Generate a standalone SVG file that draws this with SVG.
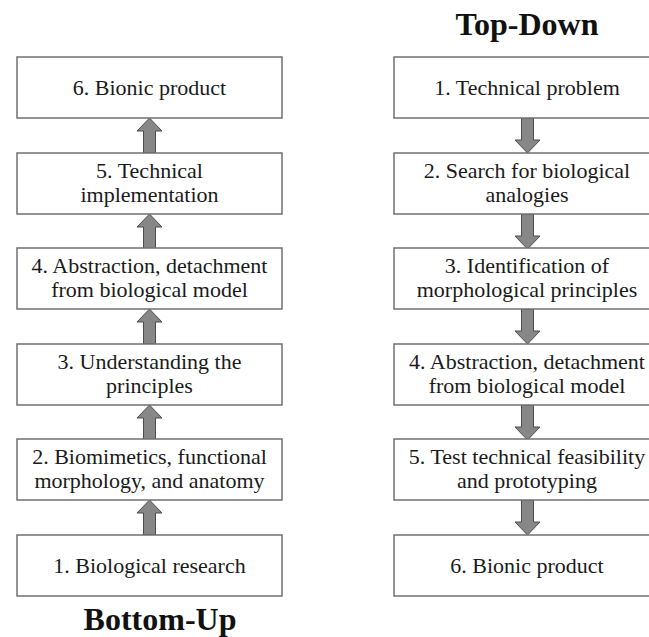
<svg xmlns="http://www.w3.org/2000/svg" width="649" height="637" viewBox="0 0 649 637">
<style>
.box{fill:#fff;stroke:#707070;stroke-width:1.5}
.t{font-family:"Liberation Serif","Times New Roman",serif;font-size:22px;fill:#1a1a1a;text-anchor:middle}
.h{font-family:"Liberation Serif","Times New Roman",serif;font-size:32px;font-weight:bold;fill:#111;text-anchor:middle}
.ar{fill:#878787;stroke:#4d4d4d;stroke-width:1}
</style>
<defs>
<path id="up" class="ar" d="M0,0 L12.5,13 L6,13 L6,35 L-6,35 L-6,13 L-12.5,13 Z"/>
<path id="down" class="ar" d="M0,35 L12.5,22 L6,22 L6,0 L-6,0 L-6,22 L-12.5,22 Z"/>
</defs>
<rect width="649" height="637" fill="#fff"/>
<text class="h" x="527" y="35">Top-Down</text>
<text class="h" x="160" y="630">Bottom-Up</text>

<g id="connectors">
<use href="#up" x="149.5" y="118"/>
<use href="#up" x="149.5" y="214"/>
<use href="#up" x="149.5" y="309"/>
<use href="#up" x="149.5" y="405"/>
<use href="#up" x="149.5" y="500"/>
<use href="#down" x="527.5" y="118"/>
<use href="#down" x="527.5" y="214"/>
<use href="#down" x="527.5" y="309"/>
<use href="#down" x="527.5" y="405"/>
<use href="#down" x="527.5" y="500"/>
</g>

<g id="bu6"><rect class="box" x="17" y="57" width="265" height="61"/><text class="t" x="149.5" y="95">6. Bionic product</text></g>
<g id="bu5"><rect class="box" x="17" y="153" width="265" height="61"/><text class="t" x="149.5" y="178">5. Technical</text><text class="t" x="149.5" y="202">implementation</text></g>
<g id="bu4"><rect class="box" x="17" y="248" width="265" height="61"/><text class="t" x="149.5" y="273">4. Abstraction, detachment</text><text class="t" x="149.5" y="297">from biological model</text></g>
<g id="bu3"><rect class="box" x="17" y="344" width="265" height="61"/><text class="t" x="149.5" y="369">3. Understanding the</text><text class="t" x="149.5" y="393">principles</text></g>
<g id="bu2"><rect class="box" x="17" y="439" width="265" height="61"/><text class="t" x="149.5" y="464">2. Biomimetics, functional</text><text class="t" x="149.5" y="488">morphology, and anatomy</text></g>
<g id="bu1"><rect class="box" x="17" y="535" width="265" height="61"/><text class="t" x="149.5" y="573">1. Biological research</text></g>

<g id="td1"><rect class="box" x="394" y="57" width="266" height="61"/><text class="t" x="527" y="95">1. Technical problem</text></g>
<g id="td2"><rect class="box" x="394" y="153" width="266" height="61"/><text class="t" x="527" y="178">2. Search for biological</text><text class="t" x="527" y="202">analogies</text></g>
<g id="td3"><rect class="box" x="394" y="248" width="266" height="61"/><text class="t" x="527" y="273">3. Identification of</text><text class="t" x="527" y="297">morphological principles</text></g>
<g id="td4"><rect class="box" x="394" y="344" width="266" height="61"/><text class="t" x="527" y="369">4. Abstraction, detachment</text><text class="t" x="527" y="393">from biological model</text></g>
<g id="td5"><rect class="box" x="394" y="439" width="266" height="61"/><text class="t" x="527" y="464">5. Test technical feasibility</text><text class="t" x="527" y="488">and prototyping</text></g>
<g id="td6"><rect class="box" x="394" y="535" width="266" height="61"/><text class="t" x="527" y="573">6. Bionic product</text></g>
</svg>
